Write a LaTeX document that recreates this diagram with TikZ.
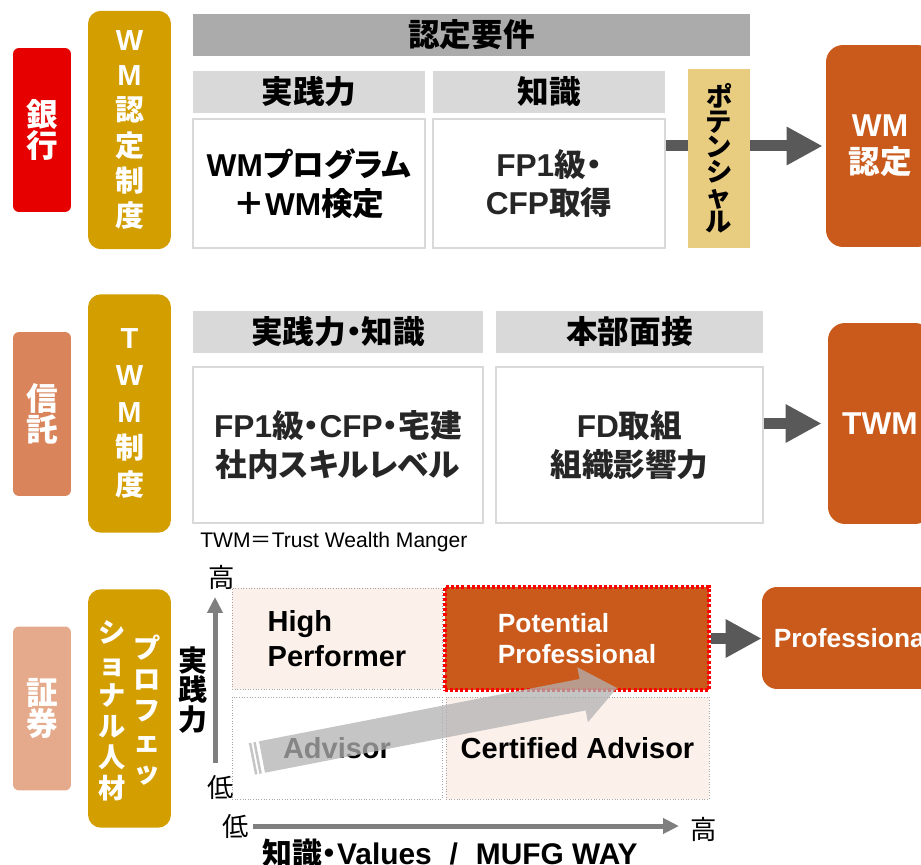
\documentclass[tikz,border=0pt]{standalone}
\usepackage{fontspec}
\setmainfont{Liberation Sans}
\newfontfamily\jp{Noto Sans CJK JP}[RawFeature=+palt]
\usetikzlibrary{arrows.meta}
\definecolor{bkred}{HTML}{E60000}
\definecolor{sysgold}{HTML}{D39E00}
\definecolor{trorange}{HTML}{D9845A}
\definecolor{scpeach}{HTML}{E5AA8B}
\definecolor{certorange}{HTML}{CA5A1B}
\definecolor{potgold}{HTML}{E8CC80}
\definecolor{hdrgray}{HTML}{D9D9D9}
\definecolor{bargray}{HTML}{ABABAB}
\definecolor{cellpink}{HTML}{FBF0EA}
\definecolor{arrgray}{HTML}{595959}
\definecolor{axgray}{HTML}{7F7F7F}
\definecolor{txtgray}{HTML}{262626}
\newcommand\jt[1]{{\jp #1}}
\newcommand\fsz[2]{\fontsize{#1}{#2}\selectfont}
\pgfdeclarelayer{bg}
\pgfsetlayers{bg,main}

\begin{document}
\begin{tikzpicture}[x=0.02cm,y=-0.02cm,
  sector/.style={fill=#1,rounded corners=0.12cm,minimum width=1.16cm,minimum height=3.28cm,
    text=white,font=\bfseries\fsz{18}{18}\jp,align=center,inner sep=0pt},
  sysbox/.style={fill=sysgold,rounded corners=0.26cm,minimum width=1.66cm,minimum height=4.77cm,
    text=white,font=\bfseries\fsz{16.5}{20},align=center,inner sep=0pt},
  hdr/.style={fill=hdrgray,minimum height=0.84cm,font=\bfseries\fsz{18}{22}\jp,inner sep=0pt},
  reqbox/.style={draw=hdrgray,line width=1.2pt,fill=white,text=txtgray,
    font=\bfseries\fsz{18}{22},align=center,inner sep=0pt},
  cert/.style={fill=certorange,rounded corners=0.34cm,text=white,
    font=\bfseries\fsz{18}{21},align=center,inner sep=0pt},
  cell/.style={fill=cellpink,draw=gray!70,densely dotted,line width=0.5pt,
    font=\bfseries\fsz{16.5}{20},align=left,inner sep=0pt},
  blk/.style={draw=arrgray,line width=0.22cm,-{Triangle[length=0.72cm,width=0.72cm]}},
  axis/.style={draw=axgray,line width=0.1cm,-{Triangle[length=0.32cm,width=0.3cm]}},
  tick/.style={font=\fsz{15}{16}\jp,inner sep=0pt}]
  \useasboundingbox (0,0) rectangle (921,865);
  \clip (0,0) rectangle (921,865);

  \node[sector=bkred] (bank) at (42,130) {銀\\行};
  \node[sysbox] (wmsys) at (129.5,130) {W\\M\\\jt{認}\\\jt{定}\\\jt{制}\\\jt{度}};
  \node[hdr,fill=bargray,minimum width=11.14cm] (reqbar) at (471.5,35) {認定要件};
  \node[hdr,minimum width=4.64cm] (hdrA) at (309,92) {実践力};
  \node[hdr,minimum width=4.64cm] (hdrB) at (549,92) {知識};
  \node[reqbox,text=black,minimum width=4.64cm,minimum height=2.58cm] (boxA) at (309,183.5)
    {WM\jt{プログラム}\\\jt{＋}WM\jt{検定}};
  \node[reqbox,minimum width=4.64cm,minimum height=2.58cm] (boxB) at (549,183.5)
    {FP1\jt{級・}\\CFP\jt{取得}};
  \node[fill=potgold,minimum width=1.24cm,minimum height=3.58cm,font=\bfseries\fsz{15}{14.2}\jp,
    align=center,inner sep=0pt] (pot) at (719,158.5) {ポ\\テ\\ン\\シ\\ャ\\ル};
  \node[cert,minimum width=2.16cm,minimum height=4.04cm] (wmcert) at (880,146) {WM\\\jt{認定}};
  \begin{pgfonlayer}{bg}
    \draw[blk,shorten >=0.06cm] (boxB.east |- wmcert.west) -- (wmcert.west);
  \end{pgfonlayer}

  \node[sector=trorange] (trust) at (42,414) {信\\託};
  \node[sysbox,font=\bfseries\fsz{16.5}{21}] (twmsys) at (129.5,413.5) {T\\W\\M\\\jt{制}\\\jt{度}};
  \node[hdr,minimum width=5.8cm] (hdrC) at (338,332) {実践力・知識};
  \node[hdr,minimum width=5.34cm] (hdrD) at (629.5,332) {本部面接};
  \node[reqbox,minimum width=5.8cm,minimum height=3.12cm] (boxC) at (338,445)
    {FP1\jt{級・}CFP\jt{・宅建}\\\jt{社内スキルレベル}};
  \node[reqbox,minimum width=5.34cm,minimum height=3.12cm] (boxD) at (629.5,445)
    {FD\jt{取組}\\\jt{組織影響力}};
  \node[cert,minimum width=2.08cm,minimum height=4.02cm] (twm) at (880,423.5) {TWM};
  \draw[blk,shorten >=0.12cm] (boxD.east |- twm.west) -- (twm.west);
  \node[anchor=west,font=\fsz{12}{14},inner sep=0pt] (note) at (200,542) {TWM\jt{＝}Trust Wealth Manger};

  \node[sector=scpeach] (sec) at (42,708.5) {証\\券};
  \node[sysbox] (prosys) at (129.5,708.5) {};
  \node[font=\bfseries\fsz{15.5}{17.7}\jp,text=white,align=center,inner sep=0pt] (colR) at (147,710) {プ\\ロ\\フ\\ェ\\ッ};
  \node[font=\bfseries\fsz{15.5}{17.7}\jp,text=white,align=center,inner sep=0pt] (colL) at (112,711) {シ\\ョ\\ナ\\ル\\人\\材};
  \node[font=\bfseries\fsz{16.5}{17}\jp,align=center,inner sep=0pt] (ylab) at (193,690) {実\\践\\力};

  \node[cell,minimum width=4.2cm,minimum height=2.02cm] (hp) at (337,638.5) {High\\Performer};
  \node[cell,fill=white,minimum width=4.2cm,minimum height=2.04cm] (adv) at (337,748) {Advisor};
  \node[cell,minimum width=5.26cm,minimum height=2.04cm] (ca) at (577.5,748) {Certified Advisor};
  \node[cell,fill=certorange,draw=red,dash pattern=on 1.7pt off 1.2pt,line width=2pt,text=white,
    font=\bfseries\fsz{15}{18},minimum width=5.28cm,minimum height=2.06cm] (pp) at (577,638.5)
    {Potential\\Professional};
  \node[cert,rounded corners=0.3cm,minimum width=3.64cm,minimum height=2.04cm,
    font=\bfseries\fsz{15}{18}] (prof) at (853,638) {Professional};
  \draw[blk] (pp.east) -- (pp.east -| prof.west);

  \fill[black!30,opacity=0.75] (259,741.3) -- (579.6,679) -- (577.3,667.2) -- (617,688)
    -- (587.9,722.2) -- (585.7,710.4) -- (265,772.7) -- cycle;
  \draw[black!30,opacity=0.75,line width=0.05cm] (250.1,743.0) -- (256.2,774.4);
  \draw[black!30,opacity=0.75,line width=0.05cm] (254.5,742.2) -- (260.6,773.6);

  \coordinate (ylo) at (215,763);
  \coordinate (yhi) at (215,597);
  \coordinate (xlo) at (253,826);
  \coordinate (xhi) at (679,826);
  \draw[axis] (ylo) -- (yhi);
  \draw[axis] (xlo) -- (xhi);
  \node[tick] (yhitxt) at (222,577) {高};
  \node[tick] (ylotxt) at (221,788) {低};
  \node[tick] (xlotxt) at (236,827) {低};
  \node[tick] (xhitxt) at (704,829) {高};
  \node[font=\bfseries\fsz{17}{20},inner sep=0pt] (xlab) at (450,853)
    {\jt{知識・}Values\hspace{.6em}/\hspace{.6em}MUFG WAY};
\end{tikzpicture}
\end{document}
